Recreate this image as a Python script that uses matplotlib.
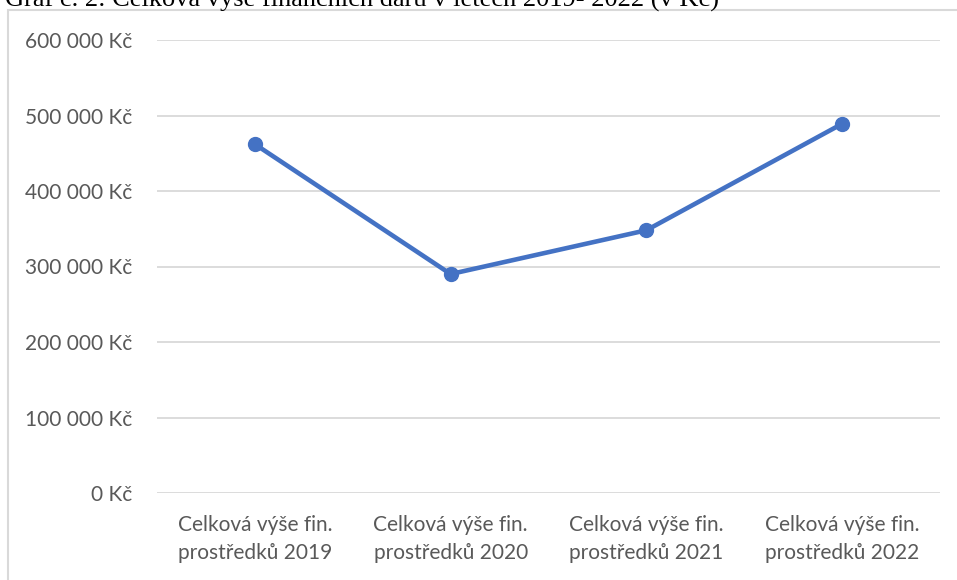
import matplotlib.pyplot as plt
from matplotlib.patches import Rectangle
from matplotlib.ticker import FuncFormatter

# data
categories = ['Celková výše fin.\nprostředků 2019', 'Celková výše fin.\nprostředků 2020',
              'Celková výše fin.\nprostředků 2021', 'Celková výše fin.\nprostředků 2022']
values = [462000, 290000, 348000, 489000]
y_ticks = [0, 100000, 200000, 300000, 400000, 500000, 600000]
title = 'Graf č. 2: Celková výše finančních darů v letech 2019- 2022 (v Kč)'

plt.rcParams['font.family'] = ['Lato', 'DejaVu Sans']

fig = plt.figure(figsize=(9.57, 5.80), dpi=100)
W, H = 957, 580

# chart frame (light gray, clipped by the image at right and bottom)
fig.patches.append(Rectangle((8 / W, -0.1), 1.2, (H - 10) / H + 0.1, transform=fig.transFigure,
                             fill=False, edgecolor='#d9d9d9', linewidth=1.5))

# title, cut off at the top
fig.text(5 / W, 1 - 7 / H, title, family='Liberation Serif', fontsize=19, color='black',
         ha='left', va='baseline')

ax = fig.add_axes([157 / W, (H - 493) / H, (940 - 157) / W, (493 - 40) / H])
x = range(len(categories))
ax.plot(x, values, color='#4472c4', linewidth=3.3, marker='o', markersize=10,
        solid_capstyle='round')

ax.set_xlim(-0.5, len(categories) - 0.5)
ax.set_ylim(0, 600000)
ax.set_yticks(y_ticks)
ax.yaxis.set_major_formatter(FuncFormatter(lambda v, p: f'{int(v):,} Kč'.replace(',', ' ')))
ax.set_xticks(list(x))
ax.set_xticklabels(categories, fontsize=15, color='#595959', linespacing=1.5)
ax.tick_params(axis='y', labelsize=15, labelcolor='#595959', length=0, pad=18)
ax.tick_params(axis='x', length=0, pad=16)
ax.grid(axis='y', color='#d9d9d9', linewidth=1.3)
ax.set_axisbelow(True)
for s in ax.spines.values():
    s.set_visible(False)

fig.savefig('out.png', dpi=100)
